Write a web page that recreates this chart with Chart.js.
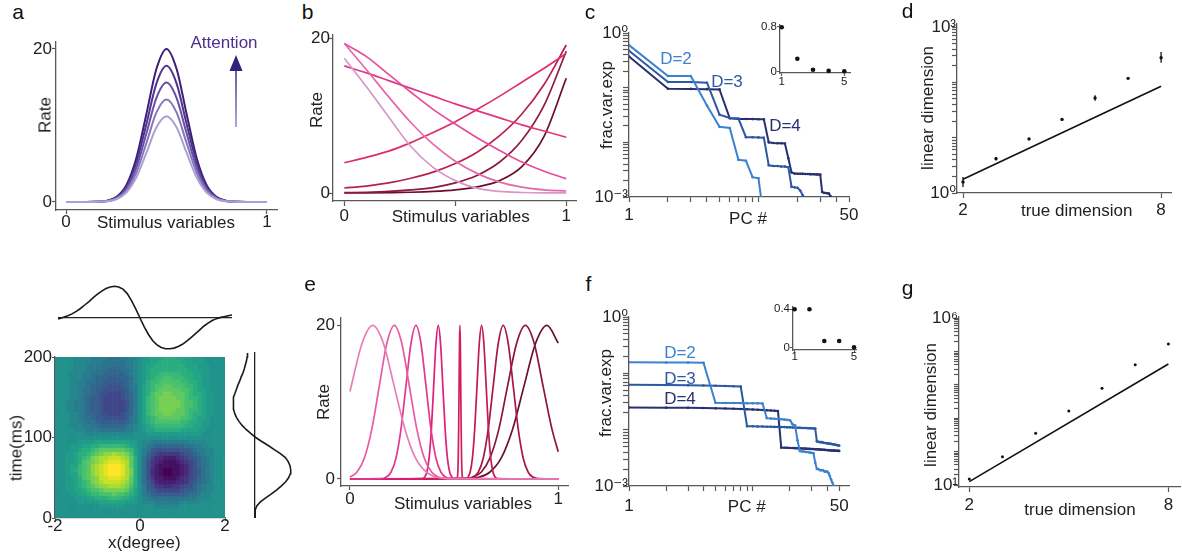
<!DOCTYPE html>
<html>
<head>
<meta charset="utf-8">
<script src="https://cdn.jsdelivr.net/npm/chart.js@4.4.1/dist/chart.umd.min.js"></script>
<style>
  html, body { margin: 0; padding: 0; background: #fff; width: 1182px; height: 557px; overflow: hidden; position: relative;
               font-family: "Liberation Sans", Arial, sans-serif; }
  canvas { position: absolute; }
  .t { position: absolute; white-space: nowrap; line-height: 1; transform: translate(-50%, -50%); color: #222; font-size: 17px; }
  .t.rot { transform: translate(-50%, -50%) rotate(-90deg); }
  .t.big { font-size: 21px; color: #111; }
</style>
</head>
<body>
<svg style="position:absolute;left:0;top:0;pointer-events:none" width="1182" height="557">
  <defs>
    <linearGradient id="ag" gradientUnits="userSpaceOnUse" x1="0" y1="127" x2="0" y2="58">
      <stop offset="0" stop-color="#9a92c9"/><stop offset="1" stop-color="#32227a"/>
    </linearGradient>
  </defs>
  <line x1="236" y1="127" x2="236" y2="66" stroke="url(#ag)" stroke-width="1.6"/>
  <polygon points="229.5,71 236,55 242.5,71" fill="#32227a"/>
</svg>
<script>
// ---------- a: tuning curves scaled by attention
const A_X  = [0, 0.05, 0.1, 0.15, 0.2, 0.25, 0.3, 0.35, 0.4, 0.45, 0.5, 0.55, 0.6, 0.65, 0.7, 0.75, 0.8, 0.85, 0.9, 0.95, 1];
const A_R1 = [0, 0, 0, 0.02, 0.14, 0.63, 2.18, 5.74, 11.5, 17.4, 20, 17.4, 11.5, 5.74, 2.18, 0.63, 0.14, 0.02, 0, 0, 0];
const A_R2 = [0, 0, 0, 0.02, 0.12, 0.55, 1.94, 5.11, 10.2, 15.5, 17.8, 15.5, 10.2, 5.11, 1.94, 0.55, 0.12, 0.02, 0, 0, 0];
const A_R3 = [0, 0, 0, 0.02, 0.11, 0.48, 1.70, 4.48, 8.97, 13.6, 15.6, 13.6, 8.97, 4.48, 1.70, 0.48, 0.11, 0.02, 0, 0, 0];
const A_R4 = [0, 0, 0, 0.01, 0.09, 0.42, 1.46, 3.85, 7.71, 11.7, 13.4, 11.7, 7.71, 3.85, 1.46, 0.42, 0.09, 0.01, 0, 0, 0];
const A_R5 = [0, 0, 0, 0.01, 0.08, 0.35, 1.22, 3.21, 6.44, 9.76, 11.2, 9.76, 6.44, 3.21, 1.22, 0.35, 0.08, 0.01, 0, 0, 0];
const A_COLORS = ['#3c1d78', '#4f3390', '#6750a3', '#8677bb', '#aaa0d3'];

// ---------- b: monotonic tuning curves
const B_X = [0, 0.1, 0.2, 0.3, 0.4, 0.5, 0.6, 0.7, 0.8, 0.9, 1];
const B_LILAC      = [17.4, 13.7, 9.8, 6.0, 3.3, 1.6, 0.6, 0.2, 0.07, 0.03, 0.03];
const B_PINK_STEEP = [19.3, 15.9, 12.4, 9.1, 6.3, 4.1, 2.5, 1.4, 0.75, 0.4, 0.26];
const B_PINK_MID   = [19.3, 17.6, 15.3, 13.0, 10.8, 8.9, 7.1, 5.5, 4.0, 2.8, 1.85];
const B_PINK_FLAT  = [16.4, 15.5, 14.5, 13.5, 12.5, 11.5, 10.6, 9.7, 8.8, 8.0, 7.2];
const B_RISE_1     = [3.9, 4.6, 5.4, 6.5, 7.8, 9.2, 10.8, 12.5, 14.3, 16.1, 18.0];
const B_RISE_2     = [0.65, 0.9, 1.3, 1.9, 2.7, 3.8, 5.3, 7.4, 10.2, 14.0, 19.1];
const B_RISE_3     = [0.05, 0.1, 0.2, 0.4, 0.7, 1.3, 2.3, 4.0, 6.8, 11.3, 18.3];
const B_RISE_4     = [0, 0.02, 0.05, 0.1, 0.2, 0.4, 0.8, 1.6, 3.4, 7.3, 14.8];
const B_COLORS = ['#d896c9', '#e569ab', '#e54d9b', '#e2367f', '#df2d69', '#b7204f', '#8f1a40', '#6b0e29'];

// ---------- c: fraction of variance per PC (index = PC number - 1)
const C_D2 = [0.60, 0.163, 0.163, 0.047, 0.0192, 0.0183, 0.0048, 0.0046, 0.0023, 0.0022, 0.0004];
const C_D3 = [0.472, 0.127, 0.127, 0.123, 0.032, 0.0279, 0.0272, 0.0124, 0.0124, 0.0123, 0.0121, 0.0038,
              0.0037, 0.0037, 0.0036, 0.0036, 0.0035, 0.00153, 0.00150, 0.00148, 0.00131, 0.00107, 0.00087];
const C_D4 = [0.371, 0.0955, 0.095, 0.094, 0.093, 0.0275, 0.0268, 0.0267, 0.0266, 0.0265, 0.0264, 0.0100,
              0.0097, 0.0096, 0.0096, 0.0095, 0.0051, 0.0028, 0.00268, 0.00267, 0.00266, 0.00265, 0.00264,
              0.00263, 0.00262, 0.00261, 0.00260, 0.00259, 0.00258, 0.00257, 0.00124, 0.00119, 0.00118,
              0.00117, 0.00116, 0.00103, 0.00087];
const C_INSET = [0.79, 0.23, 0.035, 0.015, 0.008];

// ---------- d: linear vs true dimension
const D_X      = [2, 3, 4, 5, 6, 7, 8];
const D_Y      = [1.58, 4.17, 9.5, 21.4, 52, 118, 279];
const D_ERR_LO = [1.28, 3.9, 9.0, 20.3, 46.7, 112, 227];
const D_ERR_HI = [1.95, 4.45, 10.0, 22.5, 58.2, 124, 353];
const D_FIT_X  = [2, 8];
const D_FIT_Y  = [1.77, 84.7];

// ---------- bottom left: separable receptive field
const HM_X = [-2.0, -1.9, -1.8, -1.7, -1.6, -1.5, -1.4, -1.3, -1.2, -1.1, -1.0, -0.9, -0.8, -0.7, -0.6, -0.5, -0.4,
              -0.3, -0.2, -0.1, 0.0, 0.1, 0.2, 0.3, 0.4, 0.5, 0.6, 0.7, 0.8, 0.9, 1.0, 1.1, 1.2, 1.3, 1.4, 1.5,
              1.6, 1.7, 1.8, 1.9, 2.0, 2.1, 2.2];
const PROFILE_X = [-0.04, -0.02, 0.02, 0.07, 0.13, 0.21, 0.30, 0.41, 0.52, 0.64, 0.75, 0.85, 0.93, 0.98, 1.00,
                   0.98, 0.91, 0.77, 0.55, 0.29, 0.00, -0.28, -0.52, -0.72, -0.85, -0.93, -0.97, -0.97, -0.95,
                   -0.90, -0.83, -0.73, -0.62, -0.50, -0.38, -0.26, -0.16, -0.08, -0.02, 0.02, 0.05, 0.08, 0.10];
const HM_T = [0, 5, 10, 15, 20, 25, 30, 35, 40, 45, 50, 55, 60, 65, 70, 75, 80, 85, 90, 95, 100, 105, 110, 115,
              120, 125, 130, 135, 140, 145, 150, 155, 160, 165, 170, 175, 180, 185, 190, 195, 200, 205];
const PROFILE_T = [0, 0.0, 0.01, 0.05, 0.15, 0.30, 0.46, 0.61, 0.74, 0.86, 0.94, 0.99, 1.00, 0.98, 0.93, 0.85,
                   0.71, 0.54, 0.37, 0.19, 0.02, -0.12, -0.25, -0.36, -0.45, -0.52, -0.57, -0.60, -0.61, -0.61,
                   -0.59, -0.56, -0.52, -0.48, -0.43, -0.39, -0.34, -0.30, -0.27, -0.24, -0.22, -0.21];

// ---------- e: heterogeneous gaussian tuning curves
const E1_X = [0, 0.058, 0.109, 0.161, 0.212, 0.264, 0.315, 0.367, 0.418, 0.470, 1];
const E1_Y = [11.4, 17.65, 20, 17.65, 12.13, 6.49, 2.71, 0.88, 0.22, 0.04, 0];
const E2_X = [0, 0.033, 0.069, 0.105, 0.141, 0.177, 0.213, 0.249, 0.285, 0.321, 0.357, 0.393, 0.429, 0.465, 1];
const E2_Y = [0.25, 0.88, 2.71, 6.49, 12.13, 17.65, 20, 17.65, 12.13, 6.49, 2.71, 0.88, 0.22, 0.04, 0];
const E3_X = [0, 0.149, 0.173, 0.197, 0.221, 0.245, 0.269, 0.293, 0.317, 0.341, 0.365, 0.389, 0.413, 0.437, 0.461, 0.485, 1];
const E4_X = [0, 0.347, 0.358, 0.369, 0.380, 0.391, 0.402, 0.413, 0.424, 0.435, 0.446, 0.457, 0.468, 0.479, 0.490, 0.501, 1];
const E5_X = [0, 0.514, 0.516, 0.518, 0.520, 0.522, 0.524, 0.526, 0.528, 0.530, 0.532, 0.534, 0.536, 0.538, 0.540, 0.542, 1];
const E6_X = [0, 0.555, 0.566, 0.577, 0.588, 0.599, 0.610, 0.621, 0.632, 0.643, 0.654, 0.665, 0.676, 0.687, 0.698, 0.709, 1];
const E7_X = [0, 0.568, 0.592, 0.616, 0.640, 0.664, 0.688, 0.712, 0.736, 0.760, 0.784, 0.808, 0.832, 0.856, 0.880, 0.904, 1];
const E_MID_Y = [0, 0.04, 0.22, 0.88, 2.71, 6.49, 12.13, 17.65, 20, 17.65, 12.13, 6.49, 2.71, 0.88, 0.22, 0.04, 0];
const E8_X = [0, 0.545, 0.587, 0.630, 0.672, 0.715, 0.757, 0.800, 0.842, 0.885, 0.927, 0.970, 1];
const E8_Y = [0, 0.04, 0.22, 0.88, 2.71, 6.49, 12.13, 17.65, 20, 17.65, 12.13, 6.49, 3.55];
const E9_X = [0, 0.561, 0.616, 0.671, 0.726, 0.781, 0.836, 0.891, 0.946, 1];
const E9_Y = [0, 0.04, 0.22, 0.88, 2.71, 6.49, 12.13, 17.65, 20, 17.7];
const E_COLORS = ['#e87db6', '#e65ca3', '#e2398f', '#df1f78', '#d41d5f', '#c11a56', '#a6174b', '#8b1440', '#6c0f2e'];

// ---------- f: fraction of variance per PC, heterogeneous population
const F_D2 = [0.157, 0.156, 0.155, 0.154, 0.0300, 0.0298, 0.0297, 0.0296, 0.0295, 0.0294, 0.0293, 0.0291,
              0.0160, 0.0158, 0.0156, 0.0155, 0.0153, 0.0151, 0.0149, 0.0147, 0.0124, 0.0119, 0.0065,
              0.0042, 0.0041, 0.0041, 0.0040, 0.0040, 0.0039, 0.0039, 0.0038, 0.0026,
              0.0020, 0.0020, 0.0019, 0.0019, 0.0019, 0.0018, 0.0018, 0.0018, 0.0017,
              0.0015, 0.0013, 0.00115, 0.00101];
const F_D3 = [0.0625, 0.0620, 0.0615, 0.0610, 0.0603, 0.0596, 0.0590, 0.0583,
              0.0115, 0.0115, 0.0114, 0.0114, 0.0113, 0.0113, 0.0112, 0.0112, 0.0111, 0.0111, 0.0110, 0.0110,
              0.0109, 0.0109, 0.0108, 0.0108, 0.0107, 0.0107, 0.0107, 0.0106, 0.0106, 0.0106, 0.0105, 0.0105,
              0.0062, 0.0061, 0.0060, 0.0060, 0.0059, 0.0058, 0.0058, 0.0057, 0.0057, 0.0056, 0.0056, 0.0055,
              0.0055, 0.0054, 0.0054, 0.0053, 0.0053, 0.0052];
const F_D4 = [0.0248, 0.0246, 0.0244, 0.0242, 0.0239, 0.0237, 0.0235, 0.0233, 0.0230, 0.0228, 0.0226, 0.0224,
              0.0221, 0.0219, 0.0217, 0.0215,
              0.00480, 0.00478, 0.00476, 0.00474, 0.00472, 0.00470, 0.00468, 0.00466, 0.00464, 0.00462, 0.00460,
              0.00458, 0.00456, 0.00454, 0.00452, 0.00450, 0.00448, 0.00446, 0.00444, 0.00442, 0.00440, 0.00438,
              0.00436, 0.00434, 0.00432, 0.00430, 0.00428, 0.00426, 0.00425, 0.00424, 0.00423, 0.00422, 0.00421,
              0.00420];
const F_INSET = [0.4, 0.4, 0.066, 0.066, 0.0];
const INSET_X = [1, 2, 3, 4, 5];

// ---------- g: linear vs true dimension, heterogeneous population
const G_X     = [2, 3, 4, 5, 6, 7, 8];
const G_Y     = [15.1, 70.8, 355, 1660, 7943, 40738, 169800];
const G_FIT_X = [2, 8];
const G_FIT_Y = [12.6, 42660];

const PC_COLORS = ['#3b82d0', '#2d58a4', '#28306f'];

// ================= drawing =================
const AXIS = '#585858';
Chart.defaults.font.family = '"Liberation Sans", Arial, "DejaVu Sans", sans-serif';
Chart.defaults.font.size = 17;
Chart.defaults.color = '#222';
Chart.defaults.animation = false;
Chart.defaults.responsive = false;
Chart.defaults.events = [];
Chart.defaults.plugins.legend.display = false;
Chart.defaults.plugins.tooltip.enabled = false;
Chart.defaults.elements.point.radius = 0;

// tick positions 1,2,..9,10,20.. of a log axis
function decade(lo, hi) {
  const out = [];
  for (let e = Math.floor(Math.log10(lo)); Math.pow(10, e) <= hi; e++)
    for (let k = 1; k < 10; k++) {
      const v = +(k * Math.pow(10, e)).toPrecision(3);
      if (v >= lo && v <= hi) out.push(v);
    }
  return out;
}

function ax(type, min, max, tickVals, labels, tl, pad, fs) {
  return {
    type, min, max, offset: false,
    afterBuildTicks: s => { s.ticks = tickVals.map(v => ({ value: v })); },
    ticks: { autoSkip: false, maxRotation: 0, minRotation: 0, padding: pad, color: '#222',
             font: { size: fs || 17, lineHeight: 1 },
             callback: v => (labels[v] !== undefined ? labels[v] : '') },
    grid: { drawOnChartArea: false, drawTicks: true, tickLength: tl, tickWidth: 1.2, tickColor: AXIS, color: AXIS },
    border: { display: true, color: AXIS, width: 1.3 }
  };
}

// only a zero line across the plot (used by the two profile plots)
function zeroLine(min, max) {
  return {
    type: 'linear', min, max,
    afterBuildTicks: s => { s.ticks = [{ value: 0 }]; },
    ticks: { display: false },
    border: { display: false },
    grid: { drawOnChartArea: true, drawTicks: false, color: '#222', lineWidth: 1.3 }
  };
}

// area = plot area [left, top, right, bottom] in page px, p = room [left, top, right, bottom] around it
function place(area, p, cfg) {
  const cv = document.createElement('canvas');
  cv.width = area[2] - area[0] + p[0] + p[2];
  cv.height = area[3] - area[1] + p[1] + p[3];
  cv.style.left = (area[0] - p[0]) + 'px';
  cv.style.top = (area[1] - p[1]) + 'px';
  document.body.appendChild(cv);
  const o = cfg.options;
  o.layout = { padding: { left: 0, top: p[1], right: p[2], bottom: 0 } };
  o.scales.x.afterFit = s => { s.height = p[3]; };
  o.scales.y.afterFit = s => { s.width = p[0]; };
  return new Chart(cv, cfg);
}

function label(text, x, y, cls, color) {
  const d = document.createElement('div');
  d.className = 't' + (cls ? ' ' + cls : '');
  d.textContent = text;
  d.style.left = x + 'px';
  d.style.top = y + 'px';
  if (color) d.style.color = color;
  document.body.appendChild(d);
}

function curve(xs, ys, color, w) {
  return { data: xs.map((x, i) => ({ x, y: ys[i] })), borderColor: color, borderWidth: w,
           cubicInterpolationMode: 'monotone' };
}

function pcSeries(vals, color) {
  return { data: vals.map((v, i) => ({ x: i + 1, y: v })), borderColor: color, borderWidth: 2, tension: 0,
           pointRadius: 1.3, pointBackgroundColor: color, pointBorderWidth: 0 };
}

const errorBars = {
  id: 'errorBars',
  afterDatasetsDraw(chart) {
    const { x, y } = chart.scales;
    const ctx = chart.ctx;
    chart.data.datasets.forEach(ds => {
      if (!ds.errLo) return;
      ctx.save();
      ctx.strokeStyle = '#111';
      ctx.lineWidth = 1.3;
      ds.data.forEach((pt, i) => {
        const px = x.getPixelForValue(pt.x);
        ctx.beginPath();
        ctx.moveTo(px, y.getPixelForValue(ds.errLo[i]));
        ctx.lineTo(px, y.getPixelForValue(ds.errHi[i]));
        ctx.stroke();
      });
      ctx.restore();
    });
  }
};

const VIRIDIS = ['#440154', '#482475', '#414487', '#355f8d', '#2a788e', '#21918c', '#22a884', '#44bf70', '#7ad151', '#bddf26', '#fde725'];
function viridis(v) {
  const q = Math.round(v * 12) / 12;               // contour-like levels
  const u = Math.min(1, Math.max(0, (q + 1) / 2)) * 10;
  const i = Math.min(9, Math.floor(u)), f = u - i;
  const a = VIRIDIS[i], b = VIRIDIS[i + 1];
  const c = k => Math.round(parseInt(a.substr(k, 2), 16) * (1 - f) + parseInt(b.substr(k, 2), 16) * f);
  return 'rgb(' + c(1) + ',' + c(3) + ',' + c(5) + ')';
}

// ---- a
place([56, 42, 277, 210], [30, 12, 12, 22], {
  type: 'line',
  data: { datasets: [A_R5, A_R4, A_R3, A_R2, A_R1].map((r, i) => curve(A_X, r, A_COLORS[4 - i], 2)) },
  options: { scales: {
    x: ax('linear', -0.05, 1.05, [0, 1], { 0: '0', 1: '1' }, 4, -0.5),
    y: ax('linear', -1.05, 20.9, [0, 20], { 0: '0', 20: '20' }, 4, 0)
  } }
});

// ---- b
place([333, 35, 576, 201], [30, 12, 12, 26], {
  type: 'line',
  data: { datasets: [B_LILAC, B_PINK_STEEP, B_PINK_MID, B_PINK_FLAT, B_RISE_1, B_RISE_2, B_RISE_3, B_RISE_4]
    .map((r, i) => curve(B_X, r, B_COLORS[i], 1.7)) },
  options: { scales: {
    x: ax('linear', -0.051, 1.044, [0, 0.5, 1], { 0: '0', 1: '1' }, 5, 1.5),
    y: ax('linear', -1.03, 20.39, [0, 20], { 0: '0', 20: '20' }, 4, -1)
  } }
});

// ---- c
place([629, 33, 849, 197], [36, 12, 14, 30], {
  type: 'line',
  data: { datasets: [pcSeries(C_D2, PC_COLORS[0]), pcSeries(C_D3, PC_COLORS[1]), pcSeries(C_D4, PC_COLORS[2])] },
  options: { scales: {
    x: ax('logarithmic', 1, 50, decade(1, 50), { 1: '1', 50: '50' }, 5, 4.5),
    y: ax('logarithmic', 0.001, 1, decade(0.001, 1), { 0.001: '10⁻³', 1: '10⁰' }, 6, -5)
  } }
});
place([780, 25, 850, 73], [26, 8, 8, 16], {
  type: 'scatter',
  data: { datasets: [{ data: INSET_X.map((x, i) => ({ x, y: C_INSET[i] })), pointRadius: 2.3,
                       pointBackgroundColor: '#111', pointBorderWidth: 0, clip: false }] },
  options: { scales: {
    x: ax('linear', 0.891, 5.364, [1, 5], { 1: '1', 5: '5' }, 3, -0.3, 11.5),
    y: ax('linear', -0.023, 0.83, [0, 0.8], { 0: '0', 0.8: '0.8' }, 3, 0, 11.5)
  } }
});

// ---- d
place([957, 24, 1171, 193], [36, 12, 10, 28], {
  type: 'scatter',
  data: { datasets: [
    { data: D_X.map((x, i) => ({ x, y: D_Y[i] })), errLo: D_ERR_LO, errHi: D_ERR_HI,
      pointRadius: 1.7, pointBackgroundColor: '#111', pointBorderWidth: 0 },
    { data: D_FIT_X.map((x, i) => ({ x, y: D_FIT_Y[i] })), showLine: true, borderColor: '#111', borderWidth: 1.6, pointRadius: 0 }
  ] },
  options: { scales: {
    x: ax('linear', 1.818, 8.3, [2, 8], { 2: '2', 8: '8' }, 5, 3.5),
    y: ax('logarithmic', 1, 1133, decade(1, 1000), { 1: '10⁰', 1000: '10³' }, 5, -4)
  } },
  plugins: [errorBars]
});

// ---- receptive field (bottom left)
const hmPts = [], hmCols = [];
HM_T.forEach((t, j) => HM_X.forEach((x, i) => {
  hmPts.push({ x, y: t });
  hmCols.push(viridis(PROFILE_X[i] * PROFILE_T[j]));
}));
place([55, 357, 225, 518], [40, 10, 10, 24], {
  type: 'scatter',
  data: { datasets: [{ data: hmPts, backgroundColor: hmCols, pointStyle: 'rect', pointRadius: 3.4,
                       pointBorderWidth: 0, clip: 0 }] },
  options: { scales: {
    x: ax('linear', -2, 2, [-2, 0, 2], { '-2': '-2', 0: '0', 2: '2' }, 3, -3.5),
    y: ax('linear', 0, 200, [0, 100, 200], { 0: '0', 100: '100', 200: '200' }, 3, 0)
  } }
});
place([58, 282, 232, 352], [0, 0, 0, 0], {
  type: 'line',
  data: { datasets: [{ data: HM_X.map((x, i) => ({ x, y: PROFILE_X[i] })), borderColor: '#1a1a1a', borderWidth: 1.6 }] },
  options: { scales: { x: { type: 'linear', min: -1.929, max: 2.165, display: false }, y: zeroLine(-1.073, 1.136) } }
});
place([228, 352, 295, 518], [0, 0, 0, 0], {
  type: 'line',
  data: { datasets: [{ data: HM_T.map((t, i) => ({ x: PROFILE_T[i], y: t })), borderColor: '#1a1a1a', borderWidth: 1.6 }] },
  options: { indexAxis: 'y', scales: { x: zeroLine(-0.756, 1.12), y: { type: 'linear', min: 0, max: 206.2, display: false } } }
});

// ---- e
const eSets = [
  curve(E1_X, E1_Y, E_COLORS[0], 1.7), curve(E2_X, E2_Y, E_COLORS[1], 1.7),
  curve(E3_X, E_MID_Y, E_COLORS[2], 1.7), curve(E4_X, E_MID_Y, E_COLORS[3], 1.7),
  curve(E5_X, E_MID_Y, E_COLORS[4], 1.7), curve(E6_X, E_MID_Y, E_COLORS[5], 1.7),
  curve(E7_X, E_MID_Y, E_COLORS[6], 1.7), curve(E8_X, E8_Y, E_COLORS[7], 1.7),
  curve(E9_X, E9_Y, E_COLORS[8], 1.7)
];
place([341, 318, 568, 486], [30, 12, 12, 24], {
  type: 'line',
  data: { datasets: eSets },
  options: { scales: {
    x: ax('linear', -0.043, 1.047, [0, 1], { 0: '0', 1: '1' }, 4, 0.5),
    y: ax('linear', -0.913, 20.97, [0, 20], { 0: '0', 20: '20' }, 4, 2)
  } }
});

// ---- f
place([629, 317, 849, 486], [36, 12, 14, 30], {
  type: 'line',
  data: { datasets: [pcSeries(F_D2, PC_COLORS[0]), pcSeries(F_D3, PC_COLORS[1]), pcSeries(F_D4, PC_COLORS[2])] },
  options: { scales: {
    x: ax('logarithmic', 1, 60, decade(1, 50), { 1: '1', 50: '50' }, 5, 7),
    y: ax('logarithmic', 0.001, 1, decade(0.001, 1), { 0.001: '10⁻³', 1: '10⁰' }, 6, -5)
  } }
});
place([793, 307, 856, 350], [26, 8, 8, 16], {
  type: 'scatter',
  data: { datasets: [{ data: INSET_X.map((x, i) => ({ x, y: F_INSET[i] })), pointRadius: 2.3,
                       pointBackgroundColor: '#111', pointBorderWidth: 0, clip: false }] },
  options: { scales: {
    x: ax('linear', 0.893, 5.134, [1, 5], { 1: '1', 5: '5' }, 3, -2, 11.5),
    y: ax('linear', -0.028, 0.424, [0, 0.4], { 0: '0', 0.4: '0.4' }, 3, 0, 11.5)
  } }
});

// ---- g
place([959, 317, 1182, 487], [36, 12, 2, 30], {
  type: 'scatter',
  data: { datasets: [
    { data: G_X.map((x, i) => ({ x, y: G_Y[i] })), pointRadius: 1.5, pointBackgroundColor: '#111', pointBorderWidth: 0 },
    { data: G_FIT_X.map((x, i) => ({ x, y: G_FIT_Y[i] })), showLine: true, borderColor: '#111', borderWidth: 1.6, pointRadius: 0 }
  ] },
  options: { scales: {
    x: ax('linear', 1.69, 8.35, [2, 8], { 2: '2', 8: '8' }, 5, 4.5),
    y: ax('logarithmic', 8.71, 1.094e6, decade(10, 1e6), { 10: '10¹', 1000000: '10⁶' }, 5, -4)
  } }
});

// ---- texts
label('a', 18, 11, 'big');  label('b', 307.5, 11, 'big');  label('c', 590, 11, 'big');  label('d', 907.5, 10, 'big');
label('e', 310, 283, 'big'); label('f', 588.5, 283, 'big'); label('g', 907.5, 287, 'big');

label('Rate', 45, 115, 'rot');                 label('Stimulus variables', 166, 222);
label('Attention', 224, 42, '', '#4a2f8c');
label('Rate', 315.5, 110, 'rot');              label('Stimulus variables', 460.7, 215.5);
label('frac.var.exp', 605.5, 105, 'rot');      label('PC #', 748, 218);
label('D=2', 676, 58, '', PC_COLORS[0]);       label('D=3', 727, 81, '', PC_COLORS[1]);  label('D=4', 785, 125, '', PC_COLORS[2]);
label('linear dimension', 926.7, 108, 'rot');  label('true dimension', 1076.7, 210);
label('time(ms)', 15.8, 448, 'rot');           label('x(degree)', 144.3, 542);
label('Rate', 323, 402, 'rot');                label('Stimulus variables', 463, 503);
label('frac.var.exp', 605, 393, 'rot');        label('PC #', 746.7, 505.5);
label('D=2', 680, 352, '', PC_COLORS[0]);      label('D=3', 680, 378, '', PC_COLORS[1]);  label('D=4', 680, 397.5, '', PC_COLORS[2]);
label('linear dimension', 930, 405, 'rot');    label('true dimension', 1080, 509);
</script>
</body>
</html>
